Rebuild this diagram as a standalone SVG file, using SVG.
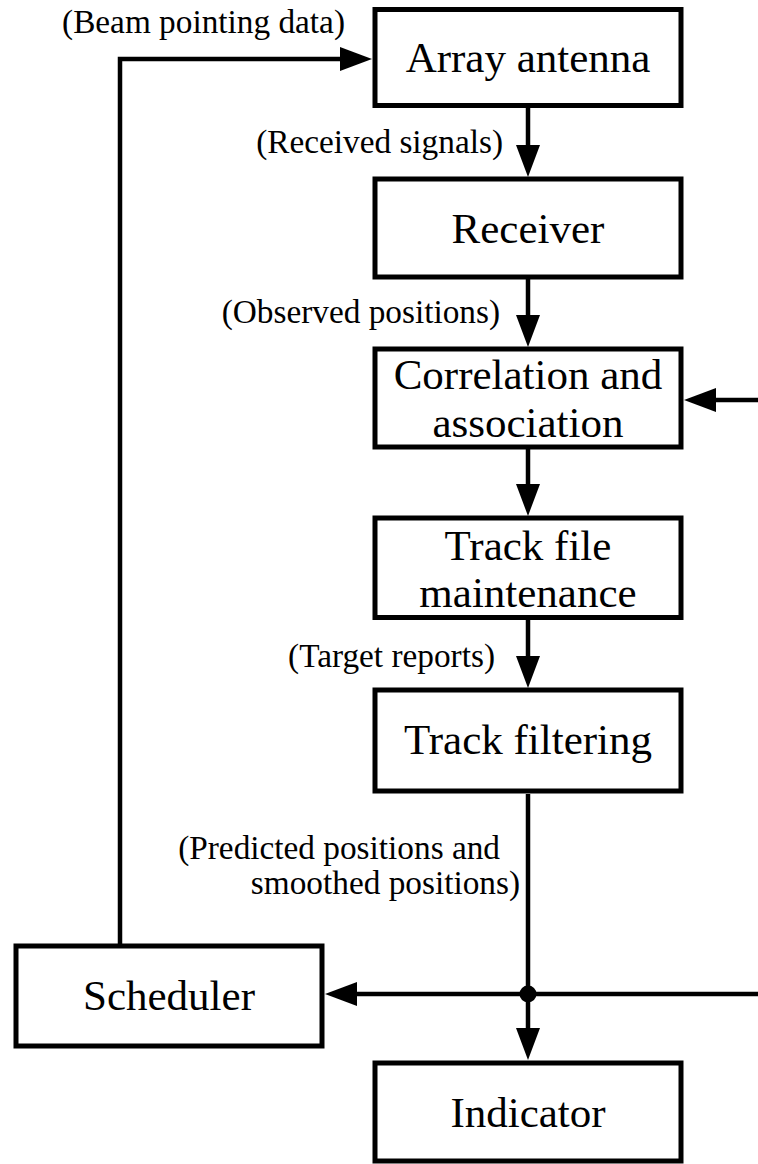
<svg xmlns="http://www.w3.org/2000/svg" width="758" height="1164" viewBox="0 0 758 1164">
  <style>
    .box { fill: #fff; stroke: #000; stroke-width: 5; }
    .wire { fill: none; stroke: #000; stroke-width: 4.5; }
    .title { font-family: "Liberation Serif", "Times New Roman", serif; font-size: 43px; fill: #000; text-anchor: middle; }
    .label { font-family: "Liberation Serif", "Times New Roman", serif; font-size: 33.3px; fill: #000; text-anchor: end; }
  </style>
  <defs>
    <marker id="head" viewBox="0 0 32 24" markerWidth="32" markerHeight="24" refX="22" refY="12" orient="auto" markerUnits="userSpaceOnUse">
      <path d="M0,0 L32,12 L0,24 Z" fill="#000"/>
    </marker>
  </defs>
  <rect width="758" height="1164" fill="#fff"/>

  <!-- connectors -->
  <g id="connectors">
    <path class="wire" d="M528 107 V167" marker-end="url(#head)"/>
    <path class="wire" d="M528 279 V337" marker-end="url(#head)"/>
    <path class="wire" d="M528 449 V506" marker-end="url(#head)"/>
    <path class="wire" d="M528 620 V678" marker-end="url(#head)"/>
    <path class="wire" d="M528 794 V1050" marker-end="url(#head)"/>
    <path class="wire" d="M758 994 H335" marker-end="url(#head)"/>
    <path class="wire" d="M758 400 H694" marker-end="url(#head)"/>
    <path class="wire" d="M120 944 V59 H362" marker-end="url(#head)"/>
    <circle cx="528" cy="994" r="8.5" fill="#000"/>
    <text class="label" x="345" y="33">(Beam pointing data)</text>
    <text class="label" x="503" y="153">(Received signals)</text>
    <text class="label" x="500" y="323">(Observed positions)</text>
    <text class="label" x="495" y="667">(Target reports)</text>
    <text class="label" x="500" y="859">(Predicted positions and</text>
    <text class="label" x="520" y="894">smoothed positions)</text>
  </g>

  <g id="array-antenna">
    <rect class="box" x="375" y="9.5" width="306" height="96"/>
    <text class="title" x="528" y="72">Array antenna</text>
  </g>
  <g id="receiver">
    <rect class="box" x="375" y="179" width="306" height="98"/>
    <text class="title" x="528" y="243">Receiver</text>
  </g>
  <g id="correlation">
    <rect class="box" x="375" y="349" width="306" height="98"/>
    <text class="title" x="528" y="389">Correlation and</text>
    <text class="title" x="528" y="437">association</text>
  </g>
  <g id="track-file">
    <rect class="box" x="375" y="518" width="306" height="99.5"/>
    <text class="title" x="528" y="560">Track file</text>
    <text class="title" x="528" y="607">maintenance</text>
  </g>
  <g id="track-filtering">
    <rect class="box" x="375" y="690" width="306" height="101"/>
    <text class="title" x="528" y="754">Track filtering</text>
  </g>
  <g id="scheduler">
    <rect class="box" x="16" y="946" width="306" height="100"/>
    <text class="title" x="169" y="1010">Scheduler</text>
  </g>
  <g id="indicator">
    <rect class="box" x="375" y="1063" width="306" height="98"/>
    <text class="title" x="528" y="1127">Indicator</text>
  </g>
</svg>
